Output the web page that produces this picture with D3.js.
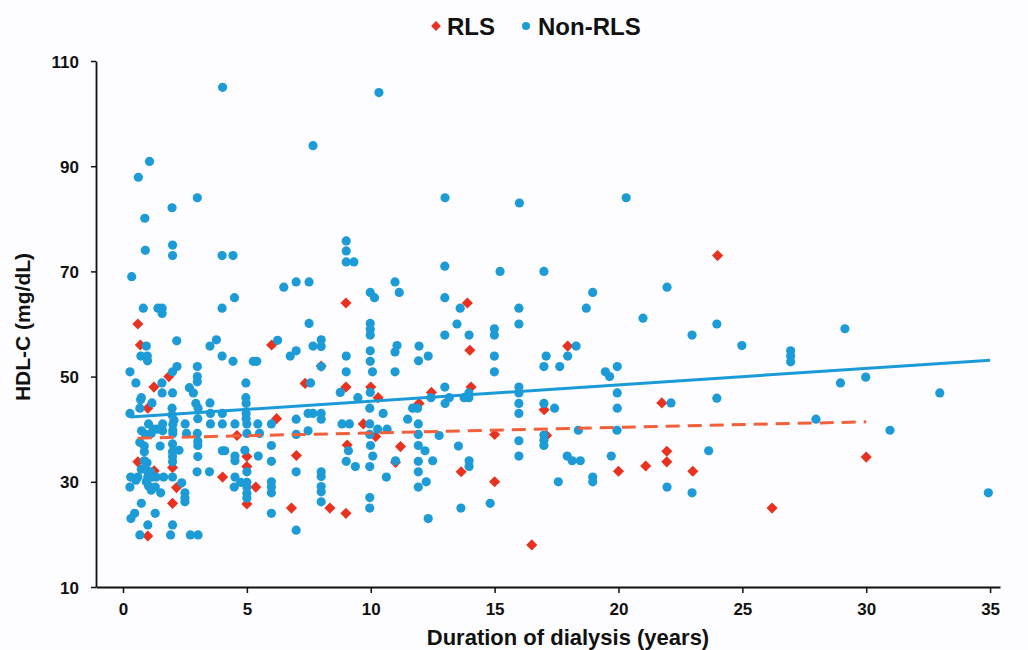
<!DOCTYPE html>
<html>
<head>
<meta charset="utf-8">
<script src="https://cdn.jsdelivr.net/npm/d3@7"></script>
<style>
  body { margin: 0; background: #fdfdff; }
  svg text { font-family: "Liberation Sans", Arial, sans-serif; font-weight: bold; fill: #111; }
</style>
</head>
<body>
<div class="chart"></div>
<script>
// years on dialysis, HDL-C (mg/dL)
const rlsPoints = [
  [0.6, 60], [0.7, 56], [1.85, 50], [1.25, 48], [1.0, 44], [4.6, 38.8], [0.6, 33.8],
  [2.0, 32.7], [5.0, 34.8], [5.0, 32.9], [1.26, 32.1], [4.02, 30.9], [2.16, 28.9],
  [5.36, 29], [5.0, 25.8], [2.0, 25.9], [1.0, 19.7], [9.0, 64], [6.0, 56], [8.0, 52],
  [7.35, 48.7], [9.0, 48], [10.0, 48], [10.3, 46], [6.2, 42], [9.7, 41], [10.2, 38.6],
  [11.95, 44.9], [7.0, 35], [9.05, 37], [11.2, 36.7], [11.0, 33.7], [6.8, 25], [8.35, 25],
  [9.0, 24], [13.9, 64], [14.0, 55], [17.95, 55.8], [12.45, 47], [14.05, 48], [17.0, 43.7],
  [15.0, 39], [17.1, 38.8], [13.65, 31.9], [15.0, 30], [20.0, 32], [16.5, 18], [24.0, 73],
  [21.75, 45], [21.95, 35.8], [21.95, 33.8], [21.1, 33], [23.0, 32], [26.2, 25], [30.0, 34.7]
];

const nonRlsPoints = [
  [2.0, 75], [0.9, 74], [2.0, 73], [4.0, 73], [4.44, 73], [0.35, 69], [4.5, 65], [0.82, 63],
  [1.41, 63], [1.58, 63], [1.58, 62], [4.0, 63], [2.17, 56.8], [3.77, 57], [3.51, 55.8],
  [0.94, 55.8], [0.98, 53.9], [0.99, 53], [0.72, 53.9], [4.0, 53.9], [4.44, 52.9], [5.26, 52.9],
  [5.4, 52.9], [2.18, 51.9], [3.0, 51.9], [0.28, 50.9], [2.0, 50.9], [3.0, 50], [3.0, 49],
  [0.52, 48.8], [1.57, 48.8], [4.96, 48.8], [2.68, 47.9], [0.74, 46], [1.58, 46.9], [2.0, 46.9],
  [2.84, 46.9], [4.96, 46],
  [0.71, 45.6], [1.17, 45], [1.98, 44], [2.94, 44.9], [3.03, 44], [3.51, 45], [4.97, 44.9],
  [0.28, 43], [0.68, 44], [1.98, 42.7], [2.06, 41.7], [3.02, 42], [3.53, 43], [4.01, 43],
  [4.97, 43], [4.97, 42], [1.03, 41], [1.6, 41], [1.38, 40], [1.6, 39.7], [2.01, 40.9],
  [2.01, 39.8], [2.51, 41], [3.53, 41], [4.01, 41], [4.52, 41], [5.0, 41], [5.44, 41],
  [0.75, 39.7], [0.91, 39], [1.14, 39.2], [1.23, 40], [2.01, 39.2], [2.56, 39.2], [3.0, 39.2],
  [5.0, 39.2], [5.51, 39.2], [0.68, 37.5], [0.86, 36.8], [1.5, 36.8], [2.0, 37.2], [2.0, 35.7],
  [2.26, 36], [3.02, 37.7], [3.02, 36.9], [3.02, 34.8], [4.01, 35.9], [4.11, 35.9], [4.92, 36],
  [0.86, 35.7], [0.86, 34], [0.97, 33.6], [2.0, 34.8], [2.0, 33.8], [4.52, 34.9], [4.52, 34],
  [5.46, 34.9], [0.74, 32.4], [0.98, 32.1], [1.11, 31.9], [2.99, 31.9], [3.49, 31.9], [5.0, 31.9],
  [0.31, 30.9], [0.6, 30.9], [1.0, 30.9], [1.17, 30.9], [1.34, 30.9], [1.64, 30.9], [2.0, 30.9],
  [4.52, 30.9], [4.75, 29.9], [5.0, 29.9], [0.28, 29], [0.52, 30.3], [0.94, 30], [1.03, 29.2],
  [1.14, 28.4], [1.3, 29], [1.52, 27.9], [2.37, 29.8], [2.5, 27.9], [4.49, 29], [5.0, 29],
  [5.0, 27.8], [5.0, 26.9], [2.5, 26.9], [2.5, 26.2], [0.74, 25.9], [0.47, 24], [0.32, 23],
  [1.3, 24], [1.0, 21.8], [2.0, 21.8], [0.68, 19.9], [1.92, 19.9], [2.72, 19.9], [3.03, 19.9],
  [9.01, 75.8], [9.01, 73.9], [9.01, 71.8], [9.32, 71.8], [6.49, 67], [6.99, 68], [7.51, 68],
  [10.98, 68], [9.98, 66], [10.15, 65], [11.15, 66], [7.51, 60.1], [9.98, 60.1], [9.98, 59],
  [9.98, 57.9], [6.24, 56.9], [8.0, 57], [8.0, 55.7], [7.67, 55.8], [6.99, 54.9], [6.75, 53.9],
  [11.06, 55.9], [10.98, 54.7], [11.95, 55.8], [9.98, 54.9], [9.98, 52.9], [10.07, 50.9],
  [9.01, 53.9], [11.93, 53], [8.0, 51.9], [9.01, 50.9], [10.98, 50.9], [7.57, 48.8], [8.77, 47],
  [9.48, 46], [9.98, 47],
  [5.99, 41], [6.99, 41.9], [7.47, 43], [7.67, 43], [8.0, 43], [8.0, 41.9], [7.47, 39.7],
  [6.99, 39], [5.99, 36.9], [8.84, 41], [9.14, 41], [9.96, 44], [9.96, 41], [9.96, 39],
  [9.99, 36.9], [10.08, 34.9], [9.96, 32.9], [10.5, 43], [10.28, 40], [10.66, 40], [11.49, 41.9],
  [11.69, 44], [11.89, 44], [11.92, 41], [11.92, 39], [11.92, 36.9], [9.1, 35.9], [5.99, 33.9],
  [6.99, 31.9], [8.0, 31.9], [8.0, 31], [8.0, 29.1], [8.0, 28.1], [8.0, 26.2], [9.01, 33.9],
  [9.38, 32.9], [11.0, 34], [11.92, 33.9], [11.92, 31.9], [11.92, 29], [10.63, 30.9], [5.99, 30],
  [5.99, 29], [5.99, 27.9], [5.99, 24], [9.96, 27], [9.96, 25], [6.99, 20.8],
  [12.99, 71], [15.22, 70], [16.99, 70], [12.99, 65], [13.61, 63], [18.96, 66], [18.7, 63],
  [15.98, 63], [13.48, 60], [15.98, 60], [12.99, 57.9], [13.97, 57.9], [14.99, 59.1],
  [14.99, 57.9], [12.32, 53.9], [14.99, 53.9], [14.99, 50.9], [18.29, 55.8], [17.08, 53.9],
  [17.95, 53.9], [16.99, 51.9], [17.63, 51.9], [19.47, 50.9], [19.64, 50], [19.95, 51.9],
  [12.99, 48], [15.98, 48], [15.98, 46.9], [13.96, 46.9], [13.96, 46], [13.77, 46], [13.17, 46],
  [12.43, 46], [19.95, 46.9],
  [13.0, 44.9], [15.98, 44.9], [15.98, 43], [16.99, 44.9], [17.42, 44], [19.95, 44], [12.76, 38.8],
  [16.99, 38.9], [16.99, 37.9], [16.99, 36.9], [18.38, 39.8], [19.94, 39.8], [15.98, 37.8],
  [13.54, 36.8], [12.19, 35.9], [15.98, 34.9], [17.93, 34.9], [18.13, 34], [18.46, 34],
  [19.71, 34.9], [12.5, 34], [13.97, 34], [13.97, 32.9], [12.24, 30], [17.57, 30], [18.96, 30.9],
  [18.96, 30], [14.82, 25.9], [13.64, 25], [12.32, 23],
  [21.96, 67], [20.99, 61.1], [23.97, 60], [22.97, 57.9], [24.98, 55.9], [26.95, 54.9],
  [26.95, 53.9], [26.95, 52.8], [29.14, 59.1], [28.96, 48.8], [29.98, 49.9], [32.97, 46.9],
  [22.12, 45], [23.97, 45.9], [27.97, 41.9], [30.96, 39.8], [23.64, 35.9], [21.96, 29],
  [22.97, 27.9], [34.93, 27.9],
  [4.02, 105], [10.33, 104], [7.67, 93.9], [1.07, 90.9], [0.62, 87.9], [3.0, 84], [1.98, 82.1],
  [0.88, 80.1], [13.0, 84], [16.0, 83], [20.31, 84]
];

// fitted trend lines (start, end)
const rlsTrend = [[0.6, 38.3], [30, 41.4]];
const nonRlsTrend = [[0.3, 42.3], [35, 53.1]];

const xTicks = [0, 5, 10, 15, 20, 25, 30, 35];
const yTicks = [10, 30, 50, 70, 90, 110];

const width = 1028, height = 650;
const red = '#e8321f', blue = '#1d9bd7';

const svg = d3.select('.chart')
  .append('svg')
  .attr('width', width)
  .attr('height', height);

svg.append('rect').attr('width', width).attr('height', height).attr('fill', '#fdfdff');

const x = d3.scaleLinear().domain([-1.09, 35.4]).range([96, 1000]);
const y = d3.scaleLinear().domain([10, 110]).range([587, 61]);

// axes
const xAxis = svg.append('g')
  .attr('transform', `translate(0,${y(10)})`)
  .call(d3.axisBottom(x).tickValues(xTicks).tickSize(6).tickSizeOuter(0).tickPadding(10));
const yAxis = svg.append('g')
  .attr('transform', `translate(${x.range()[0]},0)`)
  .call(d3.axisLeft(y).tickValues(yTicks).tickSize(5).tickSizeOuter(0).tickPadding(12));

[xAxis, yAxis].forEach(g => {
  g.select('.domain').attr('stroke', '#111').attr('stroke-width', 1.8);
  g.selectAll('.tick line').attr('stroke', '#111').attr('stroke-width', 1.5);
  g.selectAll('.tick text').attr('font-size', 17).style('font-family', null);
});
yAxis.selectAll('.tick text').attr('dy', '0.36em');

// points: RLS first, Non-RLS on top
const diamond = d3.symbol().type(d3.symbolSquare).size(62);

svg.append('g').selectAll('path')
  .data(rlsPoints)
  .enter().append('path')
  .attr('d', diamond)
  .attr('transform', d => `translate(${x(d[0])},${y(d[1])}) rotate(45)`)
  .attr('fill', red);

svg.append('g').selectAll('circle')
  .data(nonRlsPoints)
  .enter().append('circle')
  .attr('cx', d => x(d[0]))
  .attr('cy', d => y(d[1]))
  .attr('r', 4.6)
  .attr('fill', blue);

// trend lines
const line = d3.line().x(d => x(d[0])).y(d => y(d[1]));

svg.append('path')
  .attr('d', line(nonRlsTrend))
  .attr('fill', 'none')
  .attr('stroke', '#1b9ad8')
  .attr('stroke-width', 3);

svg.append('path')
  .attr('d', line(rlsTrend))
  .attr('fill', 'none')
  .attr('stroke', '#f15f3b')
  .attr('stroke-width', 3)
  .attr('stroke-dasharray', '14,8');

// axis titles
svg.append('text')
  .attr('x', 568).attr('y', 645)
  .attr('text-anchor', 'middle')
  .attr('font-size', 22)
  .text('Duration of dialysis (years)');

svg.append('text')
  .attr('transform', 'translate(30,327) rotate(-90)')
  .attr('text-anchor', 'middle')
  .attr('font-size', 21)
  .text('HDL-C (mg/dL)');

// legend
const legend = svg.append('g').attr('transform', 'translate(0,26)');
legend.append('path')
  .attr('d', d3.symbol().type(d3.symbolSquare).size(48))
  .attr('transform', 'translate(436,0) rotate(45)')
  .attr('fill', red);
legend.append('text').attr('x', 447).attr('y', 0).attr('dy', '0.36em')
  .attr('font-size', 24).text('RLS');
legend.append('circle').attr('cx', 526).attr('cy', 0).attr('r', 4).attr('fill', blue);
legend.append('text').attr('x', 538).attr('y', 0).attr('dy', '0.36em')
  .attr('font-size', 24).text('Non-RLS');
</script>
</body>
</html>
